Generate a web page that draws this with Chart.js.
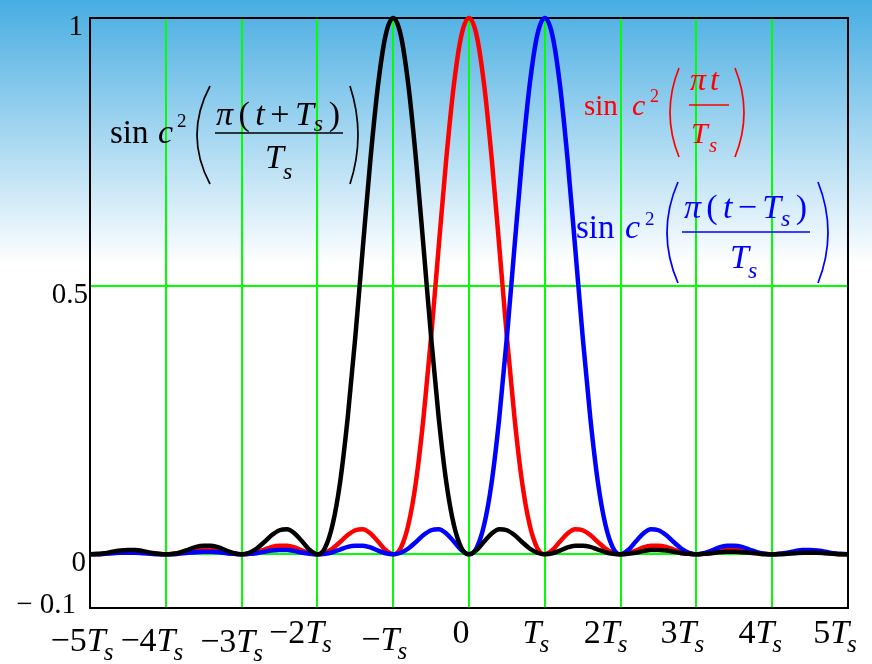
<!DOCTYPE html>
<html>
<head>
<meta charset="utf-8">
<script src="https://cdn.jsdelivr.net/npm/chart.js@4/dist/chart.umd.min.js"></script>
<style>
  html, body { margin: 0; padding: 0; width: 872px; height: 664px; overflow: hidden; }
  body { background: linear-gradient(to bottom, #48ade2 0px, #ffffff 265px) no-repeat; background-color: #ffffff; }
  #wrap { position: relative; width: 872px; height: 664px; }
</style>
</head>
<body>
<div id="wrap"><canvas id="c" width="872" height="664"></canvas></div>
<script>
// ---- data (t in units of Ts) ----
const tValues = [
  -5.0,-4.9,-4.8,-4.7,-4.6,-4.5,-4.4,-4.3,-4.2,-4.1,
  -4.0,-3.9,-3.8,-3.7,-3.6,-3.5,-3.4,-3.3,-3.2,-3.1,
  -3.0,-2.9,-2.8,-2.7,-2.6,-2.5,-2.4,-2.3,-2.2,-2.1,
  -2.0,-1.9,-1.8,-1.7,-1.6,-1.5,-1.4,-1.3,-1.2,-1.1,
  -1.0,-0.9,-0.8,-0.7,-0.6,-0.5,-0.4,-0.3,-0.2,-0.1,
  0.0,
  0.1,0.2,0.3,0.4,0.5,0.6,0.7,0.8,0.9,1.0,
  1.1,1.2,1.3,1.4,1.5,1.6,1.7,1.8,1.9,2.0,
  2.1,2.2,2.3,2.4,2.5,2.6,2.7,2.8,2.9,3.0,
  3.1,3.2,3.3,3.4,3.5,3.6,3.7,3.8,3.9,4.0,
  4.1,4.2,4.3,4.4,4.5,4.6,4.7,4.8,4.9,5.0
];
// sinc^2(pi t / Ts)  (red)
const redValues = [
  0,0,0.002,0.003,0.004,0.005,0.005,0.004,0.002,0.001,
  0,0.001,0.002,0.005,0.007,0.008,0.008,0.006,0.003,0.001,
  0,0.001,0.004,0.009,0.014,0.016,0.016,0.013,0.007,0.002,
  0,0.003,0.011,0.023,0.036,0.045,0.047,0.039,0.024,0.008,
  0,0.012,0.055,0.135,0.255,0.405,0.573,0.737,0.875,0.968,
  1,
  0.968,0.875,0.737,0.573,0.405,0.255,0.135,0.055,0.012,0,
  0.008,0.024,0.039,0.047,0.045,0.036,0.023,0.011,0.003,0,
  0.002,0.007,0.013,0.016,0.016,0.014,0.009,0.004,0.001,0,
  0.001,0.003,0.006,0.008,0.008,0.007,0.005,0.002,0.001,0,
  0.001,0.002,0.004,0.005,0.005,0.004,0.003,0.002,0,0
];
// sinc^2(pi (t+Ts) / Ts)  (black)
const blackValues = [
  0,0.001,0.002,0.005,0.007,0.008,0.008,0.006,0.003,0.001,
  0,0.001,0.004,0.009,0.014,0.016,0.016,0.013,0.007,0.002,
  0,0.003,0.011,0.023,0.036,0.045,0.047,0.039,0.024,0.008,
  0,0.012,0.055,0.135,0.255,0.405,0.573,0.737,0.875,0.968,
  1,
  0.968,0.875,0.737,0.573,0.405,0.255,0.135,0.055,0.012,0,
  0.008,0.024,0.039,0.047,0.045,0.036,0.023,0.011,0.003,0,
  0.002,0.007,0.013,0.016,0.016,0.014,0.009,0.004,0.001,0,
  0.001,0.003,0.006,0.008,0.008,0.007,0.005,0.002,0.001,0,
  0.001,0.002,0.004,0.005,0.005,0.004,0.003,0.002,0,0,
  0,0.001,0.002,0.003,0.003,0.003,0.002,0.001,0,0
];
// sinc^2(pi (t-Ts) / Ts)  (blue)
const blueValues = [
  0,0,0.001,0.002,0.003,0.003,0.003,0.002,0.001,0,
  0,0,0.002,0.003,0.004,0.005,0.005,0.004,0.002,0.001,
  0,0.001,0.002,0.005,0.007,0.008,0.008,0.006,0.003,0.001,
  0,0.001,0.004,0.009,0.014,0.016,0.016,0.013,0.007,0.002,
  0,0.003,0.011,0.023,0.036,0.045,0.047,0.039,0.024,0.008,
  0,0.012,0.055,0.135,0.255,0.405,0.573,0.737,0.875,0.968,
  1,
  0.968,0.875,0.737,0.573,0.405,0.255,0.135,0.055,0.012,0,
  0.008,0.024,0.039,0.047,0.045,0.036,0.023,0.011,0.003,0,
  0.002,0.007,0.013,0.016,0.016,0.014,0.009,0.004,0.001,0,
  0.001,0.003,0.006,0.008,0.008,0.007,0.005,0.002,0.001,0
];
const xTickValues = [-5,-4,-3,-2,-1,0,1,2,3,4,5];
const xTickLabels = ['−5T_s','−4T_s','−3T_s','−2T_s','−T_s','0','T_s','2T_s','3T_s','4T_s','5T_s'];
const yTickValues = [1, 0.5, 0, -0.1];
const yTickLabels = ['1', '0.5', '0', '− 0.1'];

// ---- styles ----
const SERIF = '"Liberation Serif", "Times New Roman", serif';
const GREEN = '#00ff00';
const xLabelShift = [-7,-13,-9,-16,-8,-8,-8,-14,-13,-11,-12];
const xLabelBase  = [651,651,652,643,650,643,643,643,643,643,643];
const yLabelRight = [83,88,86,76];
const yLabelDrop  = [17,17,17,5];

function pts(arr) { return tValues.map((t, i) => ({ x: t, y: arr[i] })); }

const R = (n) => n + 'px ' + SERIF;
const I = (n) => 'italic ' + n + 'px ' + SERIF;

function txt(ctx, s, x, y, font, color) {
  ctx.font = font; ctx.fillStyle = color;
  ctx.textAlign = 'left'; ctx.textBaseline = 'alphabetic';
  ctx.fillText(s, x, y);
}
function paren(ctx, x0, xm, y0, y1, color) {
  ctx.beginPath();
  ctx.moveTo(x0, y0);
  ctx.quadraticCurveTo(2 * xm - x0, (y0 + y1) / 2, x0, y1);
  ctx.strokeStyle = color; ctx.lineWidth = 1.7; ctx.stroke();
}
function hline(ctx, x0, x1, y, color) {
  ctx.beginPath(); ctx.moveTo(x0, y); ctx.lineTo(x1, y);
  ctx.strokeStyle = color; ctx.lineWidth = 1.7; ctx.stroke();
}
// items: [text, font, dy, gapBefore]
function fitRow(ctx, items, x0, x1, y, color) {
  const widths = items.map(it => { ctx.font = it[1]; return ctx.measureText(it[0]).width; });
  const total = widths.reduce((a, b) => a + b, 0);
  const nGaps = items.filter((it, i) => i > 0 && it[3]).length;
  const gap = nGaps ? (x1 - x0 - total) / nGaps : 0;
  let x = x0;
  items.forEach((it, i) => {
    if (i > 0 && it[3]) x += gap;
    txt(ctx, it[0], x, y + it[2], it[1], color);
    x += widths[i];
  });
}

const framePlugin = {
  id: 'frame',
  beforeDatasetsDraw(chart) {
    const { ctx, chartArea: a } = chart;
    ctx.save();
    ctx.strokeStyle = '#000'; ctx.lineWidth = 2;
    ctx.strokeRect(a.left, a.top, a.right - a.left, a.bottom - a.top);
    ctx.restore();
  },
  afterDraw(chart) {
    const ctx = chart.ctx;
    const xs = chart.scales.x, ys = chart.scales.y;
    ctx.save();
    // x tick labels
    xTickValues.forEach((v, i) => {
      const lab = xTickLabels[i];
      const hasT = lab.endsWith('T_s');
      const pre = hasT ? lab.slice(0, -3) : lab;
      ctx.font = R(34); const w1 = ctx.measureText(pre).width;
      ctx.font = I(34); const w2 = hasT ? ctx.measureText('T').width : 0;
      ctx.font = I(25); const w3 = hasT ? ctx.measureText('s').width : 0;
      const total = w1 + w2 + w3;
      let x = xs.getPixelForValue(v) + xLabelShift[i] - total / 2;
      const y = xLabelBase[i];
      txt(ctx, pre, x, y, R(34), '#000'); x += w1;
      if (hasT) {
        txt(ctx, 'T', x, y, I(34), '#000'); x += w2 - 2;
        txt(ctx, 's', x, y + 9, I(25), '#000');
      }
    });
    // y tick labels
    yTickValues.forEach((v, i) => {
      ctx.font = R(29); ctx.fillStyle = '#000';
      ctx.textAlign = 'right'; ctx.textBaseline = 'alphabetic';
      ctx.fillText(yTickLabels[i], yLabelRight[i], ys.getPixelForValue(v) + yLabelDrop[i]);
    });

    // black formula
    let c = '#000';
    txt(ctx, 'sin', 110, 143, R(33), c);
    txt(ctx, 'c', 158, 143, I(34), c);
    txt(ctx, '2', 177, 127, R(19), c);
    paren(ctx, 210, 197, 86, 184, c);
    fitRow(ctx, [['π', I(34), 0, 0], ['(', R(34), 0, 1], ['t', I(34), 0, 1], ['+', R(34), 0, 1],
                 ['T', I(34), 0, 1], ['s', I(24), 6, 0], [')', R(34), 0, 1]], 216, 340, 125, c);
    hline(ctx, 215, 343, 133, c);
    txt(ctx, 'T', 265, 168, I(34), c);
    txt(ctx, 's', 283, 179, I(24), c);
    paren(ctx, 350, 358, 86, 184, c);

    // red formula
    c = '#ff0000';
    txt(ctx, 'sin', 584, 115, R(29), c);
    txt(ctx, 'c', 632, 115, I(30), c);
    txt(ctx, '2', 650, 102, R(18), c);
    paren(ctx, 679, 670, 68, 157, c);
    txt(ctx, 'π', 690, 90, I(32), c);
    txt(ctx, 't', 710, 90, I(32), c);
    hline(ctx, 689, 729, 105, c);
    txt(ctx, 'T', 691, 143, I(30), c);
    txt(ctx, 's', 709, 152, I(21), c);
    paren(ctx, 735, 744, 68, 157, c);

    // blue formula
    c = '#0000ff';
    txt(ctx, 'sin', 576, 238, R(33), c);
    txt(ctx, 'c', 625, 238, I(34), c);
    txt(ctx, '2', 645, 225, R(19), c);
    paren(ctx, 678, 667, 182, 283, c);
    fitRow(ctx, [['π', I(34), 0, 0], ['(', R(34), 0, 1], ['t', I(34), 0, 1], ['−', R(34), 0, 1],
                 ['T', I(34), 0, 1], ['s', I(24), 8, 0], [')', R(34), 0, 1]], 684, 807, 218, c);
    hline(ctx, 682, 810, 232, c);
    txt(ctx, 'T', 730, 268, I(34), c);
    txt(ctx, 's', 748, 278, I(24), c);
    paren(ctx, 818, 828, 182, 283, c);
    ctx.restore();
  }
};

const common = { pointRadius: 0, borderWidth: 4.5, fill: false, cubicInterpolationMode: 'monotone', clip: 6 };

new Chart(document.getElementById('c'), {
  type: 'line',
  data: {
    datasets: [
      Object.assign({ label: 'black', data: pts(blackValues), borderColor: '#000000' }, common),
      Object.assign({ label: 'blue', data: pts(blueValues), borderColor: '#0000ff' }, common),
      Object.assign({ label: 'red', data: pts(redValues), borderColor: '#ff0000' }, common)
    ]
  },
  options: {
    responsive: false,
    animation: false,
    layout: { padding: { left: 90, right: 24, top: 18, bottom: 56 } },
    plugins: { legend: { display: false }, tooltip: { enabled: false } },
    scales: {
      x: {
        type: 'linear', min: -5, max: 5,
        ticks: { display: false, stepSize: 1 },
        afterBuildTicks: (s) => { s.ticks = xTickValues.map(v => ({ value: v })); },
        grid: { drawTicks: false, lineWidth: 2, color: (ctx) => (Math.abs(ctx.tick.value) === 5 ? 'rgba(0,0,0,0)' : GREEN) },
        border: { display: false }
      },
      y: {
        type: 'linear', min: -0.1, max: 1,
        ticks: { display: false },
        afterBuildTicks: (s) => { s.ticks = yTickValues.map(v => ({ value: v })); },
        grid: { drawTicks: false, lineWidth: 2, color: (ctx) => ((ctx.tick.value === 0 || ctx.tick.value === 0.5) ? GREEN : 'rgba(0,0,0,0)') },
        border: { display: false }
      }
    }
  },
  plugins: [framePlugin]
});
</script>
</body>
</html>
